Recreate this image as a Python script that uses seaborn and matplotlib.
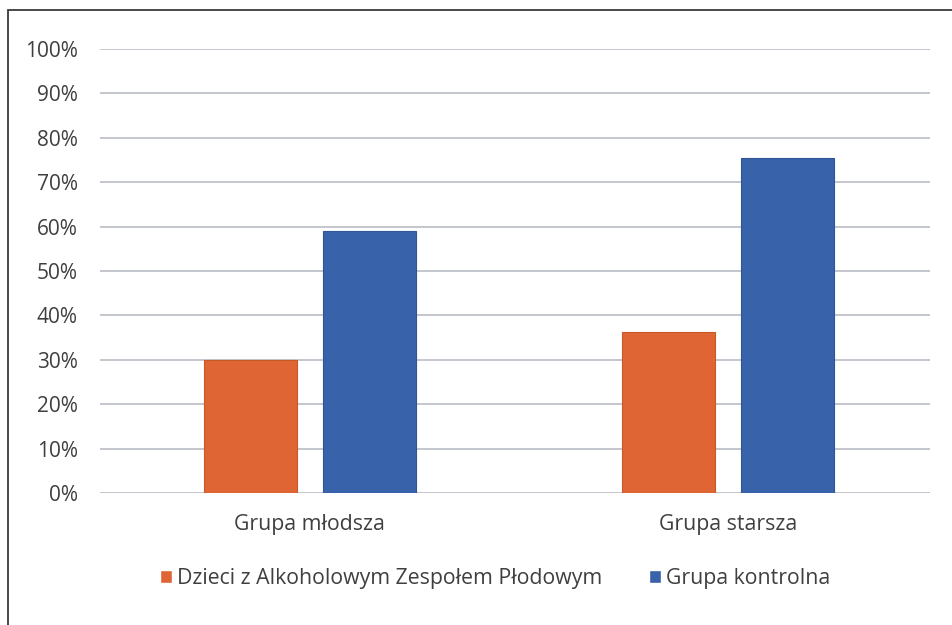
import pandas as pd
import seaborn as sns
import matplotlib.pyplot as plt
from matplotlib.patches import Rectangle
from matplotlib.ticker import PercentFormatter

# Data
groups = ['Grupa młodsza', 'Grupa starsza']
series = ['Dzieci z Alkoholowym Zespołem Płodowym', 'Grupa kontrolna']
fas_values = [0.30, 0.363]
control_values = [0.591, 0.755]
colors = ['#E06535', '#3862A9']

df = pd.DataFrame({
    'group': groups * 2,
    'series': [series[0]] * 2 + [series[1]] * 2,
    'value': fas_values + control_values,
})

sns.set_theme(style='white')
plt.rcParams['font.family'] = ['Open Sans', 'DejaVu Sans']

fig = plt.figure(figsize=(9.52, 6.25), dpi=100)
ax = fig.add_axes([100 / 952, 1 - 493 / 625, 830 / 952, 444 / 625])

sns.barplot(data=df, x='group', y='value', hue='series', palette=colors,
            saturation=1, width=0.569, gap=0.218, ax=ax, legend=True)
edge = ['#C85828'] * 2 + ['#2F5597'] * 2
for patch, c in zip(ax.patches, edge):
    patch.set_edgecolor(c)
    patch.set_linewidth(0.8)

ax.set_ylim(0, 1)
ax.set_xlim(-0.502, 1.483)
ax.set_yticks([i / 10 for i in range(11)])
ax.yaxis.set_major_formatter(PercentFormatter(1.0, decimals=0))
ax.yaxis.grid(True, color='#C4C6CE', linewidth=1.4)
ax.set_axisbelow(True)
for s in ['top', 'right', 'left', 'bottom']:
    ax.spines[s].set_visible(False)
ax.axhline(0, color='#C4C6CE', linewidth=1.4, zorder=0)
ax.tick_params(axis='both', length=0, colors='#3F3F3F')
ax.tick_params(axis='y', pad=16, labelsize=15)
ax.tick_params(axis='x', pad=15, labelsize=15.3)
ax.set_xlabel('')
ax.set_ylabel('')

leg = ax.legend(loc='center', bbox_to_anchor=(0.476, -0.193), ncol=2,
                frameon=False, fontsize=15.3, handlelength=0.55, handleheight=0.55,
                handletextpad=0.25, columnspacing=2.2)
for t in leg.get_texts():
    t.set_color('#3F3F3F')

# outer frame (right/bottom fall outside the image)
fig.patches.append(Rectangle((8 / 952, -0.1), 1.2, 1 - 10 / 625 + 0.1,
                             transform=fig.transFigure, fill=False,
                             edgecolor='#3a3a3a', linewidth=1.3))

plt.savefig('out.png', dpi=100)
